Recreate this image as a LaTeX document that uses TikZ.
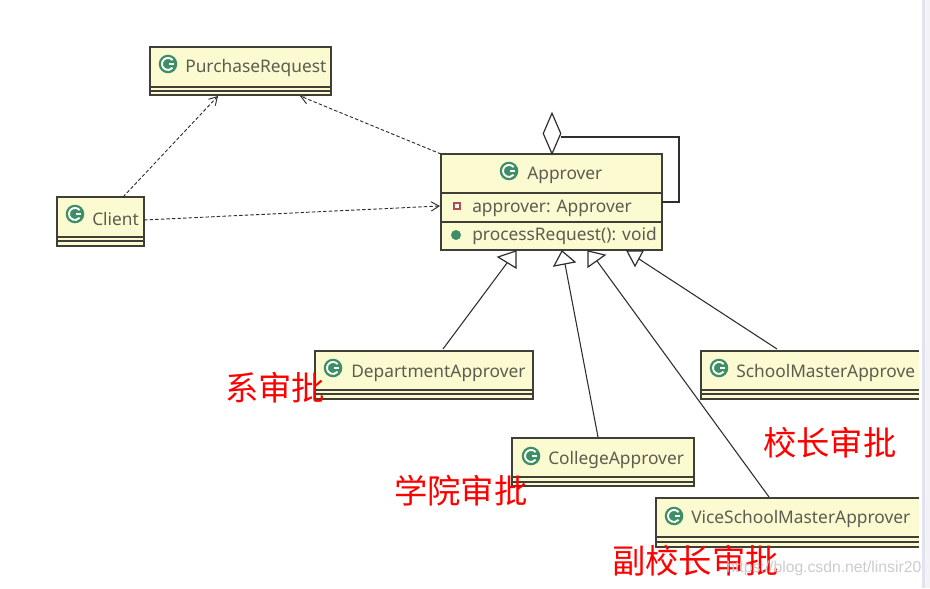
\documentclass[tikz,border=0pt]{standalone}
\usepackage{fontspec}
\setmainfont{Noto Sans}
\newfontfamily\cjk{Noto Sans CJK SC}
\newfontfamily\wm{Liberation Sans}
\usetikzlibrary{arrows.meta,shapes.geometric}
\definecolor{boxfill}{HTML}{FCFAD0}
\definecolor{boxline}{HTML}{3F3F38}
\definecolor{txt}{HTML}{5C5C50}
\definecolor{icon}{HTML}{3F8F66}
\definecolor{conn}{HTML}{2E2E2E}
\definecolor{stripa}{HTML}{E2E2F0}
\definecolor{stripb}{HTML}{F3F3F7}
\tikzset{
  classbox/.style={anchor=north west,inner sep=0pt,outer sep=0pt,fill=boxfill,draw=boxline,line width=1.5pt},
  openbox/.style={anchor=north west,inner sep=0pt,outer sep=0pt,fill=boxfill},
  boxrule/.style={draw=boxline,line width=1.5pt},
  sep/.style={draw=boxline,line width=1.3pt},
  label/.style={anchor=west,inner sep=0pt,yshift=-1.1pt,text=txt,font=\fontsize{13}{15}\selectfont},
  red label/.style={anchor=west,inner sep=0pt,text=red,font=\cjk\fontsize{25}{28}\selectfont},
  dep/.style={draw=conn,line width=0.7pt,dash pattern=on 2.6pt off 1.6pt,-{Straight Barb[length=6pt,width=7pt,line width=0.7pt]}},
  solidline/.style={draw=conn,line width=0.8pt},
  tri/.style={draw=conn,line width=0.9pt,fill=white,line join=miter},
}
\newcommand{\cicon}[2]{%
  \fill[icon] (#1,#2) circle[radius=9.3];
  \draw[white,line width=1.4pt] (#1+4.6,#2-3.9) arc[start angle=40,end angle=320,radius=4.5pt];
  \draw[white,line width=1.2pt] (#1+5.6,#2) -- (#1+0.5,#2);
}
\newcommand{\lowerrules}[4]{% left,right,y1,y2
  \draw[sep] (#1,#3) -- (#2,#3);
  \draw[sep] (#1,#4) -- (#2,#4);
}
\begin{document}
\begin{tikzpicture}[x=0.75pt,y=-0.75pt]
\useasboundingbox (0,0) rectangle (930,588);
\fill[white] (0,0) rectangle (930,588);
\fill[stripb] (925,0) rectangle (930,588);
\fill[stripa] (922,0) rectangle (925,588);

% class boxes
\node[classbox,minimum width=135.75pt,minimum height=36pt] (purchase) at (150,47) {};
\lowerrules{150}{331}{87}{91}
\cicon{168}{64}
\node[label] (purchaseText) at (185,67) {PurchaseRequest};

\node[classbox,minimum width=65.25pt,minimum height=36.75pt] (client) at (57,197) {};
\lowerrules{57}{144}{237}{241}
\cicon{75}{214}
\node[label] (clientText) at (92,218) {Client};

\node[classbox,minimum width=165.75pt,minimum height=72pt] (approver) at (441,154) {};
\draw[sep] (441,193) -- (662,193);
\draw[sep] (441,222) -- (662,222);
\cicon{509}{171}
\node[label] (approverText) at (527,174) {Approver};
\fill[white,draw={red!60!black!70},line width=1.3pt] (454,203) rectangle (460,209);
\node[label] (fieldText) at (472,207) {approver: Approver};
\fill[icon] (456,235) circle[radius=5];
\node[label] (methodText) at (472,235) {processRequest(): void};

\node[classbox,minimum width=163.5pt,minimum height=36pt] (dept) at (315,351) {};
\lowerrules{315}{533}{390}{394}
\cicon{333}{368}
\node[label] (deptText) at (351,372) {DepartmentApprover};

\node[classbox,minimum width=136.5pt,minimum height=36pt] (college) at (512,438) {};
\lowerrules{512}{694}{477}{482}
\cicon{531}{456}
\node[label] (collegeText) at (548,459) {CollegeApprover};

\node[openbox,minimum width=163.5pt,minimum height=36pt] (school) at (701,351) {};
\draw[boxrule] (919,351) -- (701,351) -- (701,399) -- (919,399);
\lowerrules{701}{919}{390}{394}
\cicon{719}{368}
\node[label] (schoolText) at (736,372) {SchoolMasterApprove};

\node[openbox,minimum width=197.25pt,minimum height=36.75pt] (vice) at (656,498) {};
\draw[boxrule] (919,498) -- (656,498) -- (656,547) -- (919,547);
\lowerrules{656}{919}{537}{542}
\cicon{674}{516}
\node[label] (viceText) at (691,518) {ViceSchoolMasterApprover};

% dependencies
\draw[dep] ([shift={(22.5,0)}]client.north) -- ([shift={(-22.5,1)}]purchase.south);
\draw[dep] (approver.north west) -- ([shift={(59.5,1)}]purchase.south);
\draw[dep] ([shift={(0,-1.5)}]client.east) -- ([shift={(-1,4)}]approver.west);

% self aggregation
\node[shape=diamond,draw=conn,line width=0.9pt,fill=white,inner sep=0pt,shape aspect=0.44,minimum height=30.75pt,minimum width=13.5pt] (diamond) at (552,133.5) {};
\draw[solidline] ([shift={(-1,3.5)}]diamond.east) -| ([shift={(17,0)}]approver.east) -- (approver.east);

% generalisations
\coordinate (baseD) at (507,263);
\coordinate (baseC) at (565,264);
\coordinate (baseV) at (597,261);
\coordinate (baseS) at (639,259);
\draw[solidline] ([shift={(19,-2)}]dept.north) -- (baseD);
\draw[solidline] ([shift={(-5,-1)}]college.north) -- (baseC);
\draw[solidline] ([shift={(-18.5,-1)}]vice.north) -- (baseV);
\draw[solidline] ([shift={(-33,-2)}]school.north) -- (baseS);
\draw[tri] (516,251) -- (498,257) -- (516,268) -- cycle;
\draw[tri] (562,251) -- (554,266) -- (575,262) -- cycle;
\draw[tri] (588,251) -- (588,267) -- (605,255) -- cycle;
\draw[tri] (627,251) -- (643,251) -- (635,266) -- cycle;

% red notes
\node[red label] (noteD) at (225,388) {系审批};
\node[red label] (noteC) at (394,491) {学院审批};
\node[red label] (noteS) at (763,443) {校长审批};
\node[red label] (noteV) at (612,561) {副校长审批};

% watermark
\node[anchor=west,inner sep=0pt,text=black!20,font=\wm\fontsize{11.8}{14}\selectfont] (mark) at (726,568) {https://blog.csdn.net/linsir20};
\end{tikzpicture}
\end{document}
